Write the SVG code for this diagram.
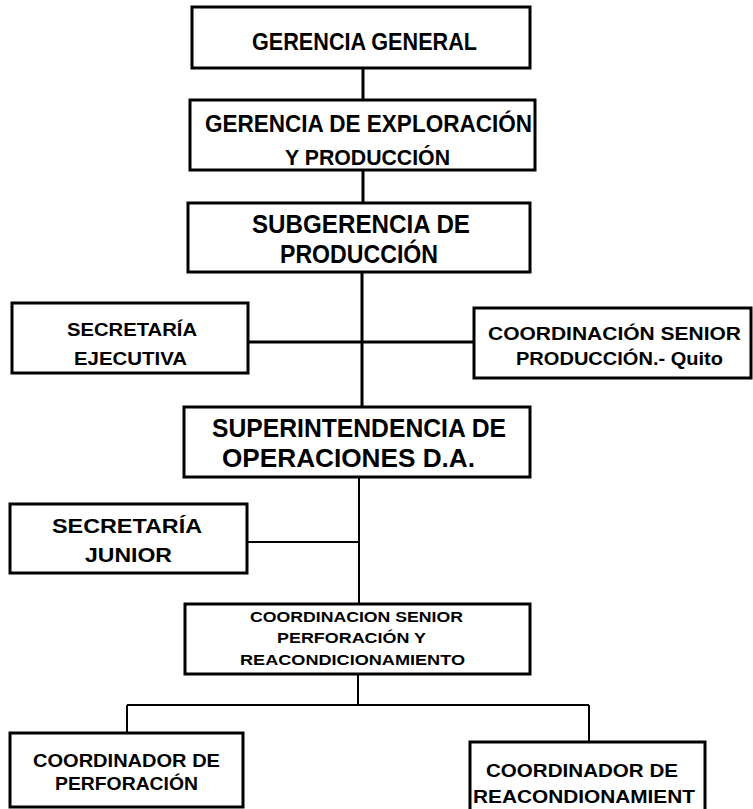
<svg xmlns="http://www.w3.org/2000/svg" width="753" height="809" viewBox="0 0 753 809">
<style>
.box{fill:#fff;stroke:#000;stroke-width:3}
.t{font-family:"Liberation Sans",Arial,sans-serif;font-weight:bold;fill:#000;text-anchor:middle}
.c{stroke:#000;fill:none}
</style>
<rect width="753" height="809" fill="#fff"/>
<g id="connectors">
<line class="c" x1="363" y1="68" x2="363" y2="100" stroke-width="3"/>
<line class="c" x1="363" y1="170" x2="363" y2="203" stroke-width="3"/>
<line class="c" x1="362" y1="272" x2="362" y2="407" stroke-width="3"/>
<line class="c" x1="248" y1="342" x2="474" y2="342" stroke-width="3"/>
<line class="c" x1="359" y1="477" x2="359" y2="604" stroke-width="2"/>
<line class="c" x1="247" y1="542" x2="359" y2="542" stroke-width="2"/>
<line class="c" x1="358" y1="674" x2="358" y2="705" stroke-width="2"/>
<line class="c" x1="127" y1="705" x2="589" y2="705" stroke-width="2"/>
<line class="c" x1="127" y1="705" x2="127" y2="733" stroke-width="2"/>
<line class="c" x1="589" y1="705" x2="589" y2="742" stroke-width="2"/>
</g>
<g id="gerencia-general">
<rect class="box" x="192" y="7" width="338" height="61"/>
<text class="t" x="364.5" y="50" font-size="24" textLength="225" lengthAdjust="spacingAndGlyphs">GERENCIA GENERAL</text>
</g>
<g id="gerencia-exploracion">
<rect class="box" x="190" y="100" width="345" height="70"/>
<text class="t" x="368.5" y="132" font-size="23" textLength="327" lengthAdjust="spacingAndGlyphs">GERENCIA DE EXPLORACIÓN</text>
<text class="t" x="367.5" y="165" font-size="22" textLength="165" lengthAdjust="spacingAndGlyphs">Y PRODUCCIÓN</text>
</g>
<g id="subgerencia">
<rect class="box" x="188" y="203" width="342" height="69"/>
<text class="t" x="361" y="233" font-size="25" textLength="218" lengthAdjust="spacingAndGlyphs">SUBGERENCIA DE</text>
<text class="t" x="359" y="263" font-size="25" textLength="158" lengthAdjust="spacingAndGlyphs">PRODUCCIÓN</text>
</g>
<g id="secretaria-ejecutiva">
<rect class="box" x="12" y="303" width="236" height="70"/>
<text class="t" x="132" y="336" font-size="19" textLength="130" lengthAdjust="spacingAndGlyphs">SECRETARÍA</text>
<text class="t" x="130.5" y="365" font-size="18" textLength="113" lengthAdjust="spacingAndGlyphs">EJECUTIVA</text>
</g>
<g id="coordinacion-senior-produccion">
<rect class="box" x="474" y="308" width="277" height="70"/>
<text class="t" x="614.5" y="340" font-size="18" textLength="253" lengthAdjust="spacingAndGlyphs">COORDINACIÓN SENIOR</text>
<text class="t" x="619.5" y="365" font-size="18" textLength="207" lengthAdjust="spacingAndGlyphs">PRODUCCIÓN.- Quito</text>
</g>
<g id="superintendencia">
<rect class="box" x="184" y="407" width="346" height="70"/>
<text class="t" x="359" y="437" font-size="25" textLength="294" lengthAdjust="spacingAndGlyphs">SUPERINTENDENCIA DE</text>
<text class="t" x="348.5" y="467" font-size="25" textLength="253" lengthAdjust="spacingAndGlyphs">OPERACIONES D.A.</text>
</g>
<g id="secretaria-junior">
<rect class="box" x="10" y="504" width="237" height="69"/>
<text class="t" x="127" y="533" font-size="21" textLength="150" lengthAdjust="spacingAndGlyphs">SECRETARÍA</text>
<text class="t" x="128.5" y="562" font-size="21" textLength="87" lengthAdjust="spacingAndGlyphs">JUNIOR</text>
</g>
<g id="coordinacion-senior-perforacion">
<rect class="box" x="185" y="604" width="345" height="70"/>
<text class="t" x="356.5" y="622" font-size="14" textLength="213" lengthAdjust="spacingAndGlyphs">COORDINACION SENIOR</text>
<text class="t" x="351.5" y="643" font-size="14" textLength="149" lengthAdjust="spacingAndGlyphs">PERFORACIÓN Y</text>
<text class="t" x="352.5" y="665" font-size="14" textLength="225" lengthAdjust="spacingAndGlyphs">REACONDICIONAMIENTO</text>
</g>
<g id="coordinador-perforacion">
<rect class="box" x="10" y="733" width="233" height="74"/>
<text class="t" x="126.5" y="767" font-size="18" textLength="187" lengthAdjust="spacingAndGlyphs">COORDINADOR DE</text>
<text class="t" x="126.5" y="790" font-size="18" textLength="143" lengthAdjust="spacingAndGlyphs">PERFORACIÓN</text>
</g>
<g id="coordinador-reacondicionamiento">
<rect class="box" x="470" y="742" width="235" height="80"/>
<text class="t" x="582" y="777" font-size="18" textLength="192" lengthAdjust="spacingAndGlyphs">COORDINADOR DE</text>
<text class="t" x="584" y="803" font-size="18" textLength="222" lengthAdjust="spacingAndGlyphs">REACONDIONAMIENT</text>
</g>
</svg>
